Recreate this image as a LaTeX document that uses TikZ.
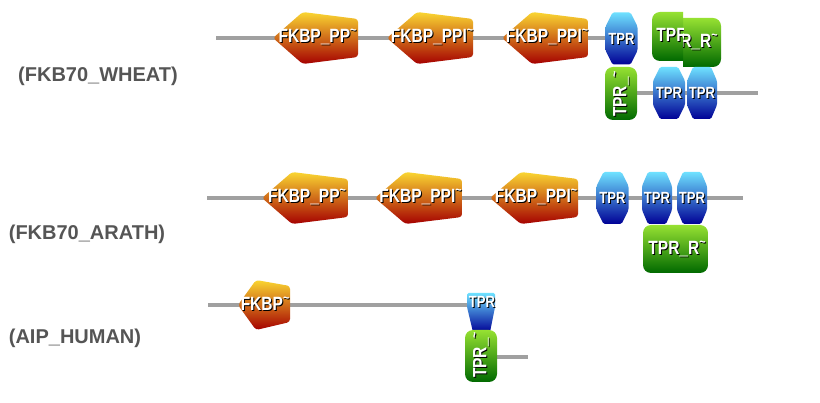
\documentclass[tikz,border=0pt]{standalone}
\usepackage{fontspec}
\setmainfont{Liberation Sans}
\usetikzlibrary{shadings}
\definecolor{bbgray}{RGB}{160,160,160}
\definecolor{lblgray}{RGB}{85,85,85}
\definecolor{fkA}{RGB}{250,214,50}
\definecolor{fkB}{RGB}{232,100,16}
\definecolor{fkC}{RGB}{165,0,0}
\definecolor{tpA}{RGB}{110,225,255}
\definecolor{tpB}{RGB}{20,80,220}
\definecolor{tpC}{RGB}{0,0,150}
\definecolor{grA}{RGB}{150,225,50}
\definecolor{grB}{RGB}{40,160,20}
\definecolor{grC}{RGB}{0,105,0}
\tikzset{
  bb/.style={draw=bbgray,line width=4pt},
  fkfill/.style={top color=fkA,middle color=fkB,bottom color=fkC,rounded corners=3pt},
  tpfill/.style={top color=tpA,middle color=tpB,bottom color=tpC,rounded corners=1.5pt},
  grfill/.style={top color=grA,middle color=grB,bottom color=grC,rounded corners=8pt},
  stxt/.style={inner sep=0pt,text=white,font=\bfseries\fontsize{16}{16}\selectfont},
  tprtxt/.style={font=\bfseries\fontsize{13.5}{14}\selectfont},
  shd/.style={stxt,text=black,xshift=1pt,yshift=-1pt},
  lbl/.style={inner sep=0pt,text=lblgray,font=\bfseries\fontsize{20}{20}\selectfont}
}
\newcommand\trn{\raisebox{0.4em}{\fontsize{11}{11}\selectfont\textasciitilde}}
\newcommand\tx[1]{\scalebox{0.97}[1.2]{#1}}
% name, text position, text, extra options
\newcommand\shtext[4]{%
  \node[shd,#4] (#1s) at (#2) {\tx{#3}};
  \node[stxt,#4] (#1) at (#2) {\tx{#3}};}
% FKBP pentagon: name, left x, right x, y, text
\newcommand\fkbpdom[5]{%
  \pgfmathsetmacro\xa{#2+0.35*(#3-#2)}%
  \path[fkfill] (#2,#4) -- (\xa,#4-26) -- (#3,#4-19) -- (#3,#4+19) -- (\xa,#4+26) -- cycle;
  \shtext{#1}{{(#2+#3)/2+2},#4-1}{#5}{}}
% TPR hexagon: name, centre x, centre y, half width
\newcommand\tprdom[4]{%
  \path[tpfill] (#2-9,#3-26) -- (#2+9,#3-26) -- (#2+#4,#3-12) -- (#2+#4,#3+12) -- (#2+9,#3+26)
     -- (#2-9,#3+26) -- (#2-#4,#3+12) -- (#2-#4,#3-12) -- cycle;
  \shtext{#1}{#2,#3}{TPR}{tprtxt}}
\begin{document}
\begin{tikzpicture}[x=1pt,y=-1pt]
\useasboundingbox[fill=white] (0,0) rectangle (820,403);

% ---------- labels ----------
\node[lbl] (lw) at (98,76) {(FKB70\_WHEAT)};
\node[lbl] (la) at (87,234) {(FKB70\_ARATH)};
\node[lbl] (lh) at (75,338) {(AIP\_HUMAN)};

% ---------- backbones ----------
\coordinate (w1s) at (216,38);  \coordinate (w1e) at (615,38);
\coordinate (w2s) at (625,93);  \coordinate (w2e) at (758,93);
\coordinate (a1s) at (207,198); \coordinate (a1e) at (743,198);
\coordinate (h1s) at (208,305); \coordinate (h1e) at (475,305);
\coordinate (h2s) at (485,357); \coordinate (h2e) at (528,357);
\draw[bb] (w1s) -- (w1e);
\draw[bb] (w2s) -- (w2e);
\draw[bb] (a1s) -- (a1e);
\draw[bb] (h1s) -- (h1e);
\draw[bb] (h2s) -- (h2e);

% ---------- FKB70_WHEAT ----------
\fkbpdom{wf1}{273}{358}{38}{FKBP\_PP\trn}
\fkbpdom{wf2}{387}{473}{38}{FKBP\_PPI\trn}
\fkbpdom{wf3}{502}{588}{38}{FKBP\_PPI\trn}
\tprdom{wt1}{621.5}{38.5}{16}
% overlapping TPR_R boxes (seam at x=683)
\begin{scope}
  \clip (683,0) rectangle (760,80);
  \path[grfill] (656,18) rectangle (721,67);
  \shtext{wrb}{689,42}{TPR\_R\trn}{}
\end{scope}
\begin{scope}
  \clip (640,0) rectangle (683,80);
  \path[grfill] (652,12) rectangle (717,61);
  \shtext{wra}{685,36}{TPR\_R\trn}{}
\end{scope}
\path[grfill] (605,67) rectangle (637,120);
\shtext{wg1}{621,94}{TPR\_\trn}{rotate=90}
\tprdom{wt2}{669}{93}{16}
\tprdom{wt3}{702}{93}{15}

% ---------- FKB70_ARATH ----------
\fkbpdom{af1}{262}{348}{198}{FKBP\_PP\trn}
\fkbpdom{af2}{375}{462}{198}{FKBP\_PPI\trn}
\fkbpdom{af3}{490}{578}{198}{FKBP\_PPI\trn}
\tprdom{at1}{612.5}{198}{16}
\tprdom{at2}{657}{198}{15}
\tprdom{at3}{692}{198}{15}
\path[grfill] (643,225) rectangle (708,273);
\shtext{ag1}{677,249}{TPR\_R\trn}{}

% ---------- AIP_HUMAN ----------
\path[fkfill] (238,305) -- (256,280) -- (290,286) -- (290,322) -- (256,330) -- cycle;
\shtext{hf1}{265,304}{FKBP\trn}{}
\path[tpfill] (467,293) -- (495,293) -- (495,307) -- (490,332) -- (473,332) -- (467,307) -- cycle;
\shtext{ht1}{482,302}{TPR}{tprtxt}
\path[grfill] (465,330) rectangle (497,382);
\shtext{hg1}{481,355}{TPR\_\trn}{rotate=90}
\end{tikzpicture}
\end{document}
